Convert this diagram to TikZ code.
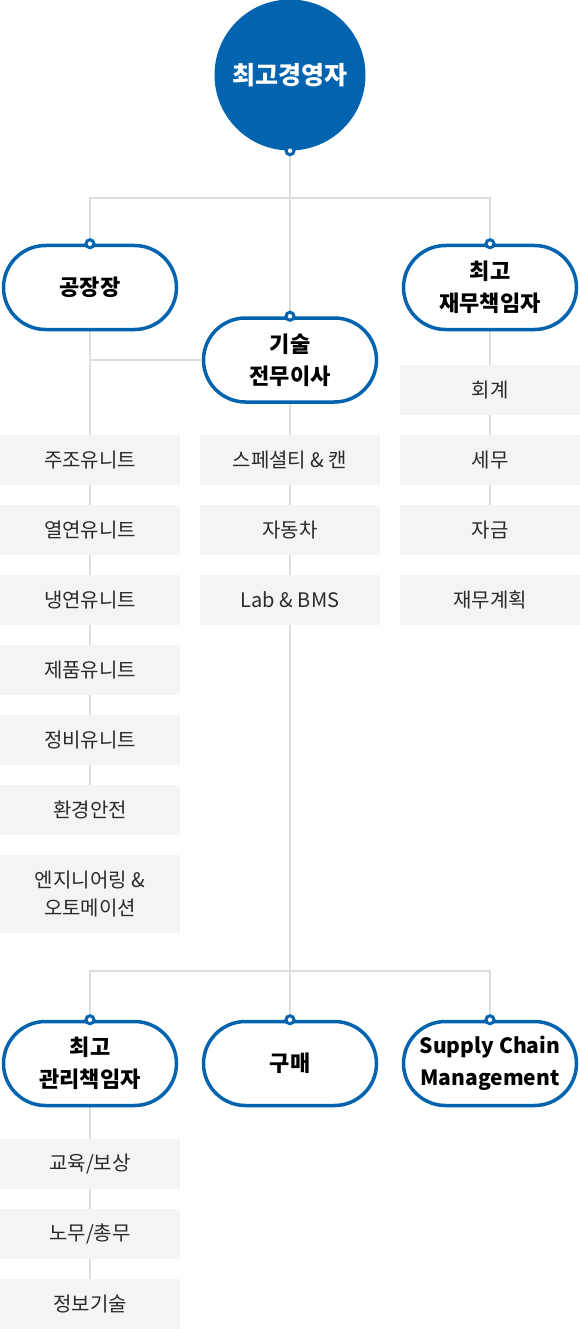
\documentclass[tikz,border=0pt]{standalone}
\usepackage{fontspec}
\setmainfont{Noto Sans CJK KR}
\usetikzlibrary{shapes.misc,backgrounds}
\definecolor{blu}{HTML}{0263AF}
\definecolor{boxgray}{HTML}{F4F4F4}
\definecolor{linegray}{HTML}{DDDDDD}
\definecolor{txt}{HTML}{2A2A2A}
\tikzset{
  pill/.style={rounded rectangle, draw=blu, line width=3.5pt, fill=white,
    minimum width=173pt, minimum height=84pt, inner sep=0pt, align=center,
    font=\bfseries\fontsize{22}{32}\selectfont, text=black},
  unitbox/.style={rectangle, fill=boxgray, minimum width=180pt, minimum height=50pt,
    inner sep=0pt, align=center, font=\fontsize{20}{28}\selectfont, text=txt},
  conn/.style={draw=linegray, line width=2pt},
  dotmark/.style={circle, draw=blu, fill=white, line width=3pt, minimum size=8pt, inner sep=0pt},
}
\begin{document}
\begin{tikzpicture}[x=1pt,y=-1pt]
\useasboundingbox (0,0) rectangle (580,1329);
% CEO
\node[circle, fill=blu, minimum size=151pt, inner sep=0pt, text=white,
  font=\bfseries\fontsize{25}{30}\selectfont] (ceo) at (290,75) {최고경영자};
\coordinate (bar1) at (290,198);
\coordinate (bar2) at (290,971);
% second level pills
\node[pill] (fac) at (90,287.5) {공장장};
\node[pill] (cto) at (290,360) {기술\\전무이사};
\node[pill] (cfo) at (490,287.5) {최고\\재무책임자};
% boxes left
\node[unitbox] (u1) at (90,460) {주조유니트};
\node[unitbox] (u2) at (90,530) {열연유니트};
\node[unitbox] (u3) at (90,600) {냉연유니트};
\node[unitbox] (u4) at (90,670) {제품유니트};
\node[unitbox] (u5) at (90,740) {정비유니트};
\node[unitbox] (u6) at (90,810) {환경안전};
\node[unitbox, minimum height=78pt] (u7) at (90,894) {엔지니어링 \&\\오토메이션};
% boxes middle
\node[unitbox] (t1) at (290,460) {스페셜티 \& 캔};
\node[unitbox] (t2) at (290,530) {자동차};
\node[unitbox] (t3) at (290,600) {Lab \& BMS};
% boxes right
\node[unitbox] (f1) at (490,390) {회계};
\node[unitbox] (f2) at (490,460) {세무};
\node[unitbox] (f3) at (490,530) {자금};
\node[unitbox] (f4) at (490,600) {재무계획};
% bottom pills
\node[pill] (cao) at (90,1063.5) {최고\\관리책임자};
\node[pill] (pur) at (290,1063.5) {구매};
\node[pill, font=\bfseries\fontsize{21}{32}\selectfont] (scm) at (490,1063.5) {Supply Chain\\Management};
% bottom boxes
\node[unitbox] (e1) at (90,1164) {교육/보상};
\node[unitbox] (e2) at (90,1234) {노무/총무};
\node[unitbox] (e3) at (90,1304) {정보기술};
% connectors (behind)
\begin{scope}[on background layer]
  \draw[conn] (ceo.south) -- (bar1);
  \draw[conn] (fac.north) |- (bar1) -| (cfo.north);
  \draw[conn] (bar1) -- (cto.north);
  \draw[conn] (fac.south) -- (u1.north);
  \draw[conn] (fac.south |- cto.west) -- (cto.west);
  \draw[conn] (u1.south) -- (u2.north);
  \draw[conn] (u2.south) -- (u3.north);
  \draw[conn] (u3.south) -- (u4.north);
  \draw[conn] (u4.south) -- (u5.north);
  \draw[conn] (u5.south) -- (u6.north);
  \draw[conn] (cto.south) -- (t1.north);
  \draw[conn] (t1.south) -- (t2.north);
  \draw[conn] (t2.south) -- (t3.north);
  \draw[conn] (t3.south) -- (bar2);
  \draw[conn] (cfo.south) -- (f1.north);
  \draw[conn] (f1.south) -- (f2.north);
  \draw[conn] (f2.south) -- (f3.north);
  \draw[conn] (cao.north) |- (bar2) -| (scm.north);
  \draw[conn] (bar2) -- (pur.north);
  \draw[conn] (cao.south) -- (e1.north);
  \draw[conn] (e1.south) -- (e2.north);
  \draw[conn] (e2.south) -- (e3.north);
\end{scope}
% dots
\foreach \n in {ceo.south,fac.north,cto.north,cfo.north,cao.north,pur.north,scm.north}
  \node[dotmark] at (\n) {};
\end{tikzpicture}
\end{document}
